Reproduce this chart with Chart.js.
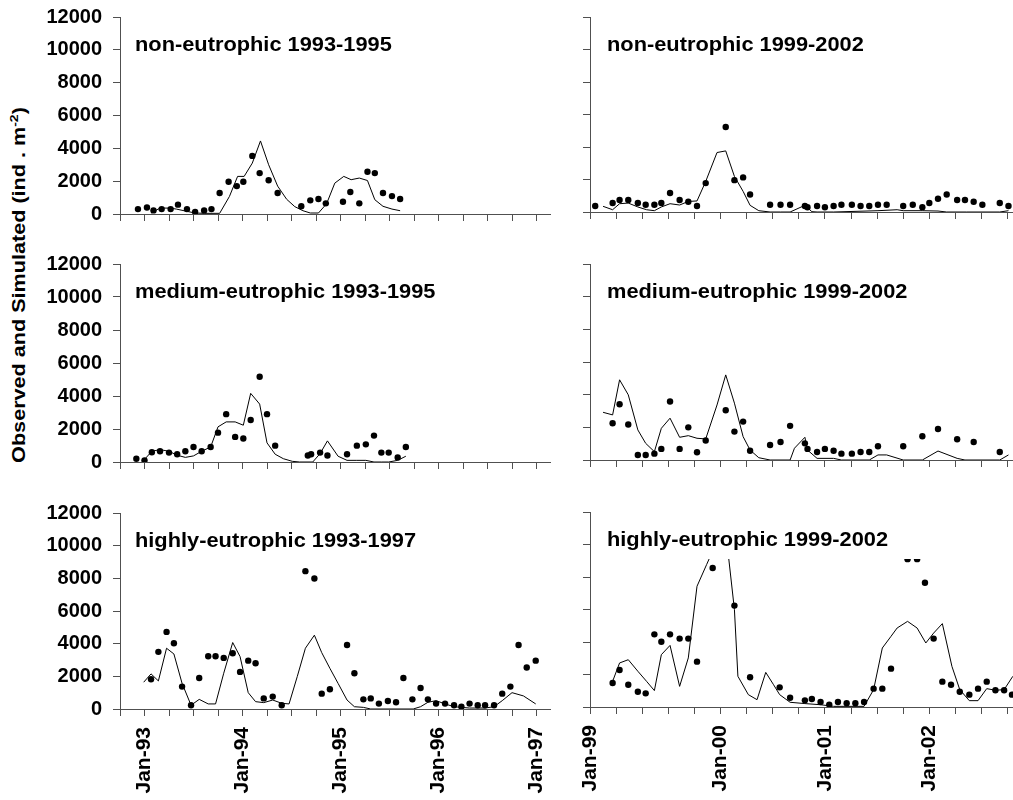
<!DOCTYPE html>
<html>
<head>
<meta charset="utf-8">
<script src="https://cdn.jsdelivr.net/npm/chart.js@4.4.0/dist/chart.umd.min.js"></script>
<style>
  body { margin: 0; background: #fff; }
  #wrap { position: relative; width: 1013px; height: 800px; overflow: hidden; }
  #wrap canvas { position: absolute; }
  #ytitle { position: absolute; left: 18px; top: 285px; width: 0; height: 0; }
  #ytitle span {
    position: absolute; white-space: nowrap;
    transform: translate(-50%, -50%) rotate(-90deg) scaleX(1.2);
    font: bold 18px "Liberation Sans", Arial, sans-serif; color: #000;
  }
  #ytitle sup { font-size: 65%; }
</style>
</head>
<body>
<div id="wrap">
  <div id="ytitle"><span>Observed and Simulated (ind . m<sup>-2</sup>)</span></div>
</div>
<script>
// x values are months counted from the first quarter tick of each time axis
var quarterLabels9397 = ['', 'Jan-93', '', '', '', 'Jan-94', '', '', '', 'Jan-95', '', '', '', 'Jan-96', '', '', '', 'Jan-97'];
var quarterLabels9902 = ['Jan-99', '', '', '', '', 'Jan-00', '', '', '', 'Jan-01', '', '', '', 'Jan-02', '', '', ''];

// non-eutrophic 1993-1995
var nonEu93ObsMonth = [2.2, 3.3, 4.1, 5.1, 6.2, 7.1, 8.2, 9.2, 10.3, 11.2, 12.2, 13.3, 14.3, 15.1, 16.2, 17.1, 18.2, 19.3, 22.2, 23.3, 24.3, 25.2, 27.3, 28.2, 29.3, 30.3, 31.2, 32.2, 33.3, 34.3];
var nonEu93ObsValue = [300, 400, 220, 300, 300, 570, 300, 120, 220, 300, 1280, 1960, 1700, 1960, 3540, 2490, 2060, 1280, 470, 830, 910, 650, 750, 1340, 650, 2570, 2490, 1280, 1090, 910];
var nonEu93SimMonth = [3.8, 4.9, 6.1, 6.9, 8.2, 9.2, 10.3, 12.2, 13.4, 14.4, 15.2, 16.2, 17.2, 18.2, 19.3, 20.4, 21.4, 22.4, 23.3, 24.3, 25.3, 26.3, 27.4, 28.3, 29.3, 30.3, 31.2, 32.2, 33.3, 34.3];
var nonEu93SimValue = [60, 360, 360, 300, 160, 60, 40, 40, 1070, 2290, 2290, 3100, 4450, 3000, 1700, 900, 450, 200, 60, 60, 630, 1880, 2290, 2090, 2190, 2040, 870, 470, 300, 200];

// non-eutrophic 1999-2002
var nonEu99ObsMonth = [0.6, 2.6, 3.4, 4.4, 5.5, 6.4, 7.4, 8.2, 9.2, 10.3, 11.3, 12.3, 13.3, 15.6, 16.6, 17.6, 18.4, 20.7, 21.9, 23.0, 24.7, 25.0, 26.1, 27.0, 28.0, 28.9, 30.1, 31.1, 32.1, 33.1, 34.1, 36.0, 37.1, 38.2, 39.0, 40.0, 41.0, 42.2, 43.1, 44.1, 45.1, 47.1, 48.1];
var nonEu99ObsValue = [370, 550, 740, 740, 550, 450, 450, 550, 1170, 740, 630, 370, 1780, 5230, 1960, 2130, 1080, 450, 450, 450, 370, 290, 370, 290, 370, 450, 450, 370, 370, 450, 450, 370, 450, 290, 550, 820, 1080, 740, 740, 630, 450, 550, 370];
var nonEu99SimMonth = [1.5, 2.6, 3.4, 4.4, 5.5, 6.5, 7.4, 8.2, 9.2, 10.3, 11.3, 12.3, 13.3, 14.6, 15.6, 16.6, 17.6, 18.4, 19.4, 20.7, 21.9, 23.0, 24.7, 25.5, 26.1, 28.0, 33.1, 35.3, 36.0, 38.2, 40.0, 41.0, 43.3, 47.1, 48.1];
var nonEu99SimValue = [350, 140, 510, 550, 310, 140, 80, 310, 510, 430, 650, 680, 1880, 3660, 3760, 2190, 1270, 410, 80, 0, 0, 0, 410, 20, 0, 0, 80, 140, 80, 80, 60, 0, 0, 0, 80];

// medium-eutrophic 1993-1995
var medEu93ObsMonth = [2.0, 3.0, 3.9, 4.9, 6.0, 7.0, 8.0, 9.0, 10.0, 11.1, 12.0, 13.0, 14.1, 15.1, 16.0, 17.1, 18.0, 19.0, 23.0, 23.4, 24.5, 25.4, 27.8, 29.0, 30.1, 31.1, 32.0, 32.9, 34.0, 35.0];
var medEu93ObsValue = [200, 100, 590, 650, 570, 470, 650, 910, 650, 910, 1780, 2900, 1520, 1420, 2550, 5170, 2900, 990, 390, 470, 570, 390, 470, 990, 1070, 1600, 570, 570, 280, 910];
var medEu93SimMonth = [2.9, 3.9, 4.9, 6.0, 7.0, 8.0, 9.0, 10.0, 11.1, 12.0, 13.0, 14.1, 15.1, 16.0, 17.1, 18.0, 19.0, 20.0, 21.1, 22.0, 23.6, 24.5, 25.4, 26.7, 27.8, 29.0, 30.1, 31.1, 32.0, 32.9, 34.0, 35.0];
var medEu93SimValue = [100, 650, 750, 650, 410, 280, 370, 650, 910, 2130, 2430, 2430, 2230, 4160, 3510, 1160, 470, 200, 40, 0, 0, 510, 1280, 350, 100, 100, 100, 0, 0, 0, 100, 350];

// medium-eutrophic 1999-2002
var medEu99ObsMonth = [2.6, 3.4, 4.4, 5.5, 6.4, 7.4, 8.2, 9.2, 10.3, 11.3, 12.3, 13.3, 15.6, 16.6, 17.6, 18.4, 20.7, 21.9, 23.0, 24.7, 25.0, 26.1, 27.0, 28.0, 28.9, 30.1, 31.1, 32.1, 33.1, 36.0, 38.2, 40.0, 42.2, 44.1, 47.1];
var medEu99ObsValue = [2250, 3410, 2170, 310, 310, 390, 680, 3580, 680, 2000, 470, 1190, 3050, 1740, 2350, 570, 920, 1100, 2090, 1020, 680, 490, 680, 570, 390, 390, 490, 490, 840, 840, 1450, 1900, 1270, 1100, 490];
var medEu99SimMonth = [1.5, 2.6, 3.4, 4.4, 5.5, 6.4, 7.4, 8.2, 9.2, 10.3, 11.3, 12.3, 13.3, 14.6, 15.6, 16.6, 17.6, 18.4, 19.4, 20.7, 23.0, 23.5, 24.7, 25.0, 26.1, 28.0, 28.9, 32.1, 33.1, 34.1, 36.0, 38.2, 40.0, 42.2, 43.1, 47.1, 48.1];
var medEu99SimValue = [2920, 2760, 4910, 3990, 1840, 1020, 510, 1940, 2560, 1390, 1490, 1330, 1290, 3370, 5210, 3480, 1430, 610, 140, 0, 0, 720, 1390, 610, 100, 100, 0, 0, 310, 310, 0, 0, 550, 100, 0, 0, 310];

// highly-eutrophic 1993-1997
var highEu93ObsMonth = [3.8, 4.7, 5.7, 6.6, 7.6, 8.7, 9.7, 10.8, 11.7, 12.7, 13.8, 14.7, 15.7, 16.6, 17.6, 18.7, 19.8, 22.7, 23.8, 24.7, 25.7, 27.8, 28.7, 29.8, 30.7, 31.7, 32.8, 33.8, 34.7, 35.8, 36.8, 37.7, 38.7, 39.8, 40.9, 41.8, 42.8, 43.8, 44.7, 45.8, 46.8, 47.8, 48.8, 49.8, 50.9];
var highEu93ObsValue = [1820, 3500, 4720, 4030, 1370, 230, 1900, 3230, 3230, 3130, 3410, 2270, 2960, 2800, 650, 760, 230, 8440, 7990, 940, 1210, 3920, 2190, 590, 650, 330, 490, 410, 1900, 590, 1290, 590, 330, 330, 230, 140, 330, 230, 230, 230, 940, 1370, 3920, 2540, 2960];
var highEu93SimMonth = [2.9, 3.8, 4.7, 5.7, 6.6, 7.6, 8.7, 9.7, 10.8, 11.7, 12.7, 13.8, 14.7, 15.7, 16.6, 17.6, 18.7, 19.8, 20.7, 21.7, 22.7, 23.8, 24.7, 25.7, 26.7, 27.8, 28.7, 29.8, 30.7, 35.9, 36.8, 37.7, 38.7, 39.8, 40.9, 41.8, 42.8, 44.7, 45.8, 46.8, 48.0, 49.4, 50.9];
var highEu93SimValue = [1640, 2150, 1720, 3720, 3370, 1570, 230, 590, 310, 310, 2190, 4070, 3210, 1000, 450, 390, 550, 350, 310, 1980, 3720, 4520, 3450, 2490, 1570, 550, 140, 100, 0, 0, 140, 410, 510, 310, 140, 100, 60, 60, 140, 510, 1000, 800, 310];

// highly-eutrophic 1999-2002
var highEu99ObsMonth = [2.6, 3.4, 4.4, 5.5, 6.4, 7.4, 8.2, 9.2, 10.3, 11.3, 12.3, 14.1, 16.6, 18.4, 21.8, 23.0, 24.7, 25.5, 26.5, 27.5, 28.5, 29.5, 30.5, 31.5, 32.6, 33.6, 34.6, 36.5, 37.6, 38.5, 39.5, 40.5, 41.5, 42.5, 43.6, 44.6, 45.6, 46.6, 47.6, 48.5];
var highEu99ObsValue = [1480, 2280, 1370, 940, 840, 4470, 4020, 4470, 4210, 4210, 2790, 8550, 6240, 1830, 1210, 570, 410, 490, 310, 140, 310, 230, 230, 310, 1130, 1130, 2360, 9100, 9100, 7650, 4210, 1560, 1370, 940, 760, 1130, 1560, 1030, 1030, 760];
var highEu99SimMonth = [2.6, 3.4, 4.4, 5.5, 6.5, 7.4, 8.2, 9.2, 10.3, 11.3, 12.3, 13.4, 14.6, 15.6, 16.6, 17.0, 18.2, 19.2, 20.2, 21.1, 21.8, 23.0, 24.7, 26.5, 28.0, 31.5, 32.6, 33.6, 34.6, 35.3, 36.5, 37.6, 38.6, 39.5, 40.5, 41.6, 42.5, 43.6, 44.6, 45.6, 46.6, 47.6, 48.6];
var highEu99SimValue = [1580, 2710, 2910, 2200, 1580, 1010, 3220, 3790, 1270, 3020, 7430, 8760, 10200, 10800, 5990, 1890, 760, 450, 2130, 1370, 760, 290, 210, 140, 40, 40, 1070, 3630, 4350, 4860, 5270, 4860, 3940, 4550, 5130, 2500, 1070, 390, 390, 1130, 1030, 1070, 1890];

var fontFamily = '"Liberation Sans", Arial, sans-serif';
var axisColor = '#505050';

// left column: 1993-97 axis with value labels; right column: 1999-02 axis, ticks only
var columns = [
  {left: 0, width: 560, axisWidth: 120, padRight: 10, xMax: 52.65, tickLabels: quarterLabels9397, showValues: true},
  {left: 560, width: 453, axisWidth: 30, padRight: 0, xMax: 48.62, tickLabels: quarterLabels9902, showValues: false}
];

var panels = [
  {title: 'non-eutrophic 1993-1995', col: 0, top: 17, bottom: 214, obsX: nonEu93ObsMonth, obsY: nonEu93ObsValue, simX: nonEu93SimMonth, simY: nonEu93SimValue},
  {title: 'non-eutrophic 1999-2002', col: 1, top: 17, bottom: 212, obsX: nonEu99ObsMonth, obsY: nonEu99ObsValue, simX: nonEu99SimMonth, simY: nonEu99SimValue},
  {title: 'medium-eutrophic 1993-1995', col: 0, top: 264, bottom: 462, obsX: medEu93ObsMonth, obsY: medEu93ObsValue, simX: medEu93SimMonth, simY: medEu93SimValue},
  {title: 'medium-eutrophic 1999-2002', col: 1, top: 264, bottom: 460, obsX: medEu99ObsMonth, obsY: medEu99ObsValue, simX: medEu99SimMonth, simY: medEu99SimValue},
  {title: 'highly-eutrophic 1993-1997', col: 0, top: 513, bottom: 709, obsX: highEu93ObsMonth, obsY: highEu93ObsValue, simX: highEu93SimMonth, simY: highEu93SimValue},
  {title: 'highly-eutrophic 1999-2002', col: 1, top: 512, bottom: 707, obsX: highEu99ObsMonth, obsY: highEu99ObsValue, simX: highEu99SimMonth, simY: highEu99SimValue}
];

function pairs(xs, ys) {
  return xs.map(function(x, i) { return {x: x, y: ys[i]}; });
}

// panel caption sits in a white box drawn over the data, like a text box
var panelTitle = {
  id: 'panelTitle',
  afterDatasetsDraw: function(chart, args, opts) {
    var ctx = chart.ctx, area = chart.chartArea;
    var x = area.left + opts.offset;
    var stretch = 1.09;
    ctx.save();
    ctx.font = 'bold 20px ' + fontFamily;
    var w = ctx.measureText(opts.text).width * stretch;
    ctx.fillStyle = '#fff';
    ctx.fillRect(x - 8, area.top + 1, w + 50, 46);
    ctx.fillStyle = '#000';
    ctx.textBaseline = 'alphabetic';
    ctx.translate(x, area.top + 34);
    ctx.scale(stretch, 1);
    ctx.fillText(opts.text, 0, 0);
    ctx.restore();
  }
};

var wrap = document.getElementById('wrap');

panels.forEach(function(p, i) {
  var c = columns[p.col];
  var bottomRow = i >= 4;
  var canvasTop = p.top - 17;
  var plotHeight = p.bottom - p.top;
  var h = bottomRow ? 800 - canvasTop : 17 + plotHeight + 13;
  var xHeight = h - 17 - plotHeight;

  var canvas = document.createElement('canvas');
  canvas.width = c.width;
  canvas.height = h;
  canvas.style.left = c.left + 'px';
  canvas.style.top = canvasTop + 'px';
  wrap.appendChild(canvas);

  new Chart(canvas.getContext('2d'), {
    type: 'scatter',
    data: {
      datasets: [
        {
          label: 'Observed',
          data: pairs(p.obsX, p.obsY),
          showLine: false,
          pointRadius: 3.2,
          pointHoverRadius: 3.2,
          pointBackgroundColor: '#000',
          pointBorderColor: '#000',
          pointBorderWidth: 0
        },
        {
          label: 'Simulated',
          data: pairs(p.simX, p.simY),
          showLine: true,
          borderColor: '#000',
          borderWidth: 1,
          pointRadius: 0,
          pointHoverRadius: 0,
          tension: 0,
          fill: false
        }
      ]
    },
    options: {
      responsive: false,
      animation: false,
      events: [],
      layout: {autoPadding: false, padding: {top: 17, right: c.padRight, left: 0, bottom: 0}},
      plugins: {
        legend: {display: false},
        tooltip: {enabled: false},
        panelTitle: {text: p.title, offset: p.col === 0 ? 15 : 17}
      },
      scales: {
        x: {
          type: 'linear',
          min: 0,
          max: c.xMax,
          afterBuildTicks: function(scale) {
            scale.ticks = c.tickLabels.map(function(t, k) { return {value: k * 3}; });
          },
          afterFit: function(scale) {
            scale.height = xHeight;
            scale.paddingLeft = 0;
            scale.paddingRight = 0;
          },
          border: {color: axisColor, width: 1},
          grid: {drawOnChartArea: false, drawTicks: true, tickLength: 7, color: axisColor},
          ticks: {
            autoSkip: false,
            minRotation: 90,
            maxRotation: 90,
            padding: 11,
            color: '#000',
            font: {family: fontFamily, size: 21, weight: 'bold'},
            callback: function(v, k) { return bottomRow ? c.tickLabels[k] : ''; }
          }
        },
        y: {
          min: 0,
          max: 12000,
          afterFit: function(scale) {
            scale.width = c.axisWidth;
            scale.paddingTop = 0;
            scale.paddingBottom = 0;
          },
          border: {color: axisColor, width: 1},
          grid: {drawOnChartArea: false, drawTicks: true, tickLength: 7, color: axisColor},
          ticks: {
            stepSize: 2000,
            padding: 11,
            color: '#000',
            font: {family: fontFamily, size: 20, weight: 'bold'},
            callback: function(v) { return c.showValues ? String(v) : ''; }
          }
        }
      }
    },
    plugins: [panelTitle]
  });
});
</script>
</body>
</html>
